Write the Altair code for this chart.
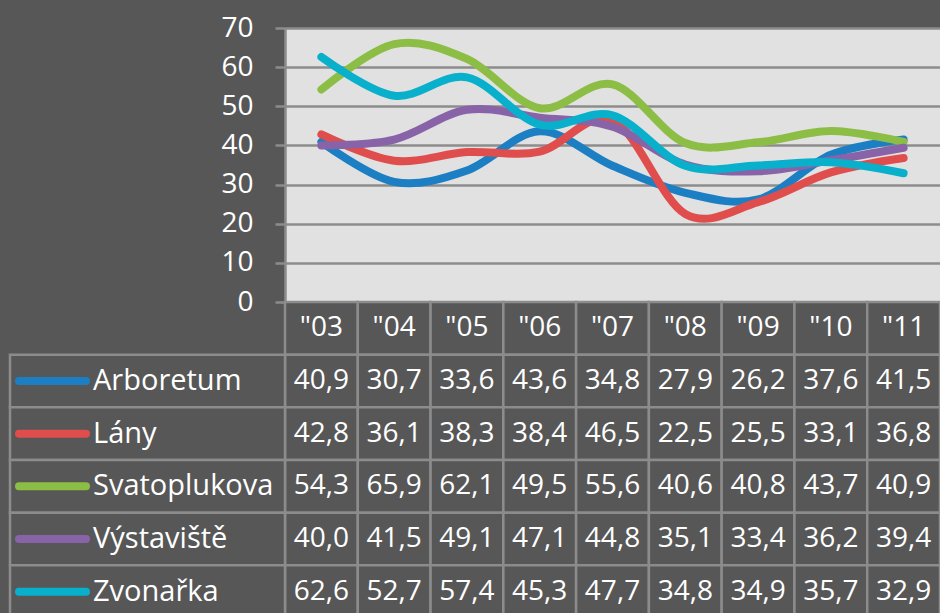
import altair as alt
import pandas as pd

years = ['"03', '"04', '"05', '"06', '"07', '"08', '"09', '"10', '"11']
series = ["Arboretum", "Lány", "Svatoplukova", "Výstaviště", "Zvonařka"]
arboretum = [40.9, 30.7, 33.6, 43.6, 34.8, 27.9, 26.2, 37.6, 41.5]
lany = [42.8, 36.1, 38.3, 38.4, 46.5, 22.5, 25.5, 33.1, 36.8]
svatoplukova = [54.3, 65.9, 62.1, 49.5, 55.6, 40.6, 40.8, 43.7, 40.9]
vystaviste = [40.0, 41.5, 49.1, 47.1, 44.8, 35.1, 33.4, 36.2, 39.4]
zvonarka = [62.6, 52.7, 57.4, 45.3, 47.7, 34.8, 34.9, 35.7, 32.9]
colors = ["#1c7fc4", "#df4d4d", "#8cbd45", "#8963a8", "#08b0cb"]
y_ticks = [0, 10, 20, 30, 40, 50, 60, 70]

values = [arboretum, lany, svatoplukova, vystaviste, zvonarka]
rows = ["hdr"] + series

recs = []
for si, (s, vals) in enumerate(zip(series, values)):
    for y, v in zip(years, vals):
        recs.append({"series": s, "order": si, "year": y, "row": s, "value": v,
                     "label": f"{v:.1f}".replace(".", ",")})
df = pd.DataFrame(recs)
cells = pd.DataFrame([{"year": y, "row": r} for r in rows for y in years])
hdr = pd.DataFrame({"year": years, "row": ["hdr"] * len(years)})
leg = pd.DataFrame({"series": series, "row": series})

BG = "#575757"
GRID = "#8c8c8c"
FONT = "Open Sans"

xscale = alt.Scale(type="band", domain=years, paddingInner=0, paddingOuter=0)
yrow = alt.Scale(type="band", domain=rows, range=[274, 590], paddingInner=0, paddingOuter=0)
cscale = alt.Scale(domain=series, range=colors)

lines = alt.Chart(df).mark_line(interpolate="cardinal", strokeWidth=8, strokeCap="round").encode(
    x=alt.X("year:N", scale=xscale, axis=None, bandPosition=0.5),
    y=alt.Y("value:Q", scale=alt.Scale(domain=[0, 70], nice=False),
            axis=alt.Axis(values=y_ticks, title=None, labelColor="white", labelFontSize=28,
                          labelFont=FONT, labelPadding=22, tickSize=10, tickWidth=2.5,
                          tickColor=GRID, domainColor=GRID, domainWidth=2.5,
                          gridColor=GRID, gridWidth=2.5, grid=True, labelFlush=False)),
    color=alt.Color("series:N", scale=cscale, legend=None),
    order=alt.Order("order:Q"),
    detail="series:N",
)

cellrects = alt.Chart(cells).mark_rect(fill=BG, stroke=GRID, strokeWidth=2.5).encode(
    x=alt.X("year:N", scale=xscale, axis=None),
    y=alt.Y("row:N", scale=yrow, axis=None),
)
labelrects = alt.Chart(leg).mark_rect(fill=BG, stroke=GRID, strokeWidth=2.5).encode(
    x=alt.value(-275), x2=alt.value(0),
    y=alt.Y("row:N", scale=yrow, axis=None),
)
hdrtext = alt.Chart(hdr).mark_text(color="white", fontSize=28, font=FONT, baseline="middle").encode(
    x=alt.X("year:N", scale=xscale, axis=None, bandPosition=0.5),
    y=alt.Y("row:N", scale=yrow, axis=None, bandPosition=0.5),
    text="year:N",
)
valtext = alt.Chart(df).mark_text(color="white", fontSize=28, font=FONT, baseline="middle").encode(
    x=alt.X("year:N", scale=xscale, axis=None, bandPosition=0.5),
    y=alt.Y("row:N", scale=yrow, axis=None, bandPosition=0.5),
    text="label:N",
)
swatch = alt.Chart(leg).mark_rule(strokeWidth=8, strokeCap="round").encode(
    x=alt.value(-266), x2=alt.value(-199),
    y=alt.Y("row:N", scale=yrow, axis=None, bandPosition=0.5),
    color=alt.Color("series:N", scale=cscale, legend=None),
)
legtext = alt.Chart(leg).mark_text(color="white", fontSize=29, font=FONT, align="left",
                                    baseline="middle").encode(
    x=alt.value(-192),
    y=alt.Y("row:N", scale=yrow, axis=None, bandPosition=0.5),
    text="series:N",
)

chart = alt.layer(lines, cellrects, labelrects, hdrtext, valtext, swatch, legtext).resolve_scale(
    y="independent"
).properties(
    width=655, height=274,
    padding={"left": 285, "top": 28, "right": 0, "bottom": 311},
    autosize=alt.AutoSizeParams(type="none"),
    background=BG,
).configure_view(fill="#e1e1e1", stroke=None)

chart.save("out.html", embed_options={"renderer": "svg", "actions": False})
